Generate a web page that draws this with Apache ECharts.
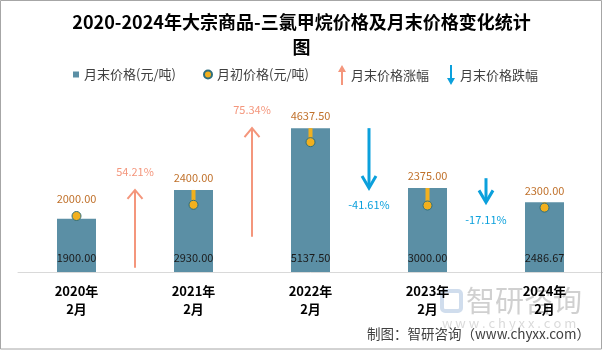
<!DOCTYPE html>
<html>
<head>
<meta charset="utf-8">
<script src="https://cdn.jsdelivr.net/npm/echarts@6/dist/echarts.min.js"></script>
<style>
    html, body { margin: 0; padding: 0; background: #fff; }
    #chart { width: 603px; height: 351px; }
</style>
</head>
<body>
<div id="chart"></div>
<script>
// 数据
var categories = ['2020年\n2月', '2021年\n2月', '2022年\n2月', '2023年\n2月', '2024年\n2月'];
var endPrice = [1900, 2930, 5137.5, 3000, 2486.67];      // 月末价格(元/吨)
var startPrice = [2000, 2400, 4637.5, 2375, 2300];       // 月初价格(元/吨)
var changeRate = [54.21, 75.34, -41.61, -17.11];         // 月末价格涨跌幅 %
var arrowTail = [150, 1260, 5137.5, 3350];               // 箭头起点数值

var FONT = '"Noto Sans CJK SC", "Noto Sans", sans-serif';

var upData = [], downData = [];
for (var k = 0; k < changeRate.length; k++) {
    var item = [k, arrowTail[k], endPrice[k + 1], changeRate[k]];
    if (changeRate[k] >= 0) upData.push(item); else downData.push(item);
}
var startData = startPrice.map(function (v, i) { return [i, v, endPrice[i]]; });

function renderStart(params, api) {
    var i = api.value(0);
    var s = api.coord([i, api.value(1)]);
    var e = api.coord([i, api.value(2)]);
    var topY = Math.min(e[1], s[1] - 5);
    return {
        type: 'group',
        children: [
            { type: 'line', shape: { x1: s[0], y1: s[1], x2: e[0], y2: e[1] },
              style: { stroke: '#f2b01e', lineWidth: 4 } },
            { type: 'text', style: { text: api.value(1).toFixed(2), x: s[0], y: topY - 12,
              align: 'center', verticalAlign: 'middle', fill: '#c0712b', fontSize: 11, fontFamily: FONT } }
        ]
    };
}

function renderArrow(params, api) {
    var i = api.value(0);
    var a = api.coord([i, api.value(1)]);
    var b = api.coord([i + 1, api.value(2)]);
    var x = (a[0] + b[0]) / 2;
    var y0 = a[1], y1 = b[1];
    var rate = api.value(3);
    var up = rate >= 0;
    var color = up ? '#f4967c' : '#0ba0dc';
    var lw = up ? 2 : 3;
    var head = up ? [[x - 7.5, y1 + 9], [x, y1], [x + 7.5, y1 + 9]]
                  : [[x - 7, y1 - 12], [x, y1], [x + 7, y1 - 12]];
    return {
        type: 'group',
        children: [
            { type: 'line', shape: { x1: x, y1: y0, x2: x, y2: y1 + (up ? 1 : -1) },
              style: { stroke: color, lineWidth: lw } },
            { type: 'polyline', shape: { points: head },
              style: { stroke: color, lineWidth: lw, fill: null } },
            { type: 'text', style: { text: rate.toFixed(2) + '%', x: x, y: up ? y1 - 18 : y1 + 17,
              align: 'center', verticalAlign: 'middle', fill: color, fontSize: 11, fontFamily: FONT } }
        ]
    };
}

var legendText = { color: '#404040', fontSize: 13, fontFamily: FONT };

var option = {
    animation: false,
    title: {
        text: '2020-2024年大宗商品-三氯甲烷价格及月末价格变化统计\n图',
        left: 'center',
        top: 10,
        padding: 0,
        textStyle: { fontSize: 18, fontWeight: 'bold', color: '#000', fontFamily: FONT, lineHeight: 25 }
    },
    legend: [
        { data: [{ name: '月末价格(元/吨)', icon: 'rect' }], left: 73, top: 68,
          itemWidth: 6, itemHeight: 6, textStyle: legendText, padding: 0 },
        { data: [{ name: '月初价格(元/吨)', icon: 'circle' }], left: 203, top: 68,
          itemWidth: 8, itemHeight: 8, textStyle: legendText, padding: 0 },
        { data: [{ name: '月末价格涨幅', icon: 'path://M4,0 L8,7 L5,7 L5,20 L3,20 L3,7 L0,7 Z' }], left: 338, top: 65,
          itemWidth: 8, itemHeight: 20, textStyle: legendText, padding: 0 },
        { data: [{ name: '月末价格跌幅', icon: 'path://M3,0 L5,0 L5,13 L8,13 L4,20 L0,13 L3,13 Z' }], left: 447, top: 65,
          itemWidth: 8, itemHeight: 20, textStyle: legendText, padding: 0 }
    ],
    grid: { left: 18, right: 0, top: 104, bottom: 79 },
    xAxis: {
        type: 'category',
        data: categories,
        axisTick: { show: false },
        axisLine: { lineStyle: { color: '#d9d9d9', width: 1 } },
        axisLabel: { color: '#000', fontSize: 13, fontWeight: 'bold', fontFamily: FONT, lineHeight: 18, margin: 10 }
    },
    yAxis: {
        type: 'value',
        min: 0,
        max: 6000,
        show: false,
        splitLine: { show: false }
    },
    graphic: [
        { type: 'rect', shape: { x: 0.5, y: 0.5, width: 601, height: 348.5 },
          style: { fill: null, stroke: '#a6a6a6', lineWidth: 1 }, z: 100 },
        { type: 'text', x: 466, y: 301, z: -1,
          style: { text: '智研咨询', fontSize: 29, fontFamily: FONT, fill: 'rgba(150,150,150,0.45)', verticalAlign: 'middle' } },
        { type: 'text', x: 442, y: 323, z: -1,
          style: { text: 'w w w . c h y x x . c o m', fontSize: 13, fontFamily: FONT, fill: 'rgba(150,150,150,0.35)', verticalAlign: 'middle' } },
        { type: 'rect', shape: { x: 442, y: 291, width: 19, height: 20, r: 3 }, z: -1,
          style: { fill: null, stroke: 'rgba(150,180,215,0.45)', lineWidth: 4 } },
        { type: 'text', right: 13, top: 327,
          style: { text: '制图：智研咨询（www.chyxx.com）', fontSize: 13.5, fontFamily: FONT, fill: '#404040' } }
    ],
    series: [
        {
            name: '月末价格(元/吨)',
            type: 'bar',
            barWidth: 39,
            z: 2,
            itemStyle: { color: '#5b8fa5' },
            label: {
                show: true,
                position: 'insideBottom',
                distance: 9,
                color: '#1a1a1a',
                fontSize: 11,
                fontFamily: FONT,
                formatter: function (p) { return p.value.toFixed(2); }
            },
            data: endPrice
        },
        {
            name: '月初误差线',
            type: 'custom',
            z: 3,
            renderItem: renderStart,
            encode: { x: 0, y: 1 },
            data: startData
        },
        {
            name: '月初价格(元/吨)',
            type: 'scatter',
            z: 4,
            symbol: 'circle',
            symbolSize: 9,
            itemStyle: { color: '#f2b01e', borderColor: '#2e6f7e', borderWidth: 1, opacity: 1 },
            data: startPrice
        },
        {
            name: '月末价格涨幅',
            type: 'custom',
            z: 5,
            itemStyle: { color: '#f4967c' },
            renderItem: renderArrow,
            encode: { x: 0, y: 1 },
            data: upData
        },
        {
            name: '月末价格跌幅',
            type: 'custom',
            z: 5,
            itemStyle: { color: '#0ba0dc' },
            renderItem: renderArrow,
            encode: { x: 0, y: 1 },
            data: downData
        }
    ]
};

var myChart = echarts.init(document.getElementById('chart'));
myChart.setOption(option);
</script>
</body>
</html>
